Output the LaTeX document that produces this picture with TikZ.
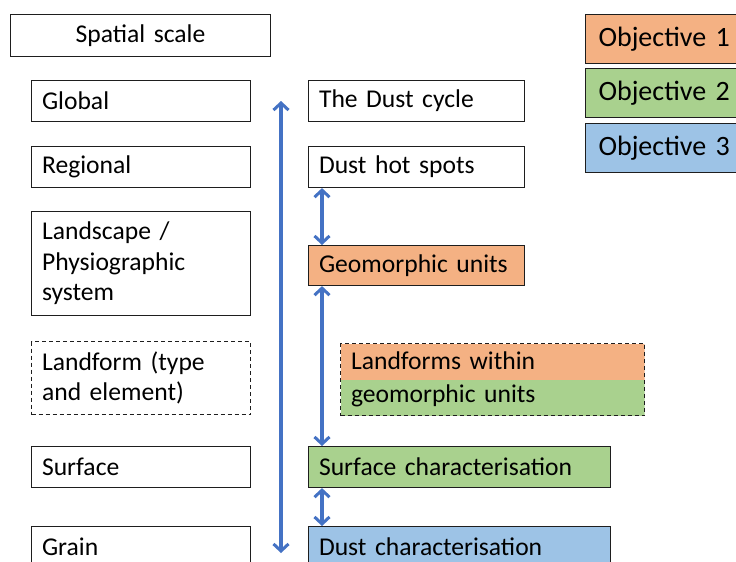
\documentclass[tikz,border=0pt]{standalone}
\usepackage{fontspec}
\setmainfont{Carlito}
\usetikzlibrary{arrows.meta}

\definecolor{objone}{RGB}{244,177,131}
\definecolor{objtwo}{RGB}{169,209,142}
\definecolor{objthree}{RGB}{157,195,230}
\definecolor{linkblue}{RGB}{68,114,196}
\definecolor{edge}{RGB}{30,30,30}

\newcommand\bodyfont{\fontsize{25.6pt}{30.5pt}\selectfont}
\newcommand\splitfont{\fontsize{25.6pt}{33pt}\selectfont}
\newcommand\legendfont{\fontsize{28pt}{32pt}\selectfont}

\tikzset{
  box/.style={draw=edge, line width=1.1pt, anchor=north west, align=left,
    inner xsep=10.5pt, inner ysep=0pt, font=\bodyfont},
  leftbox/.style={box, text width=198pt},
  shortbox/.style={box, text width=195pt},
  longbox/.style={box, text width=281pt},
  legendbox/.style={draw=edge, line width=1.1pt, anchor=north west, align=left,
    inner xsep=13pt, inner ysep=0pt, text width=134pt, minimum height=49pt,
    font=\legendfont},
  link/.style={linkblue, line width=3.2pt,
    {Straight Barb[length=7pt,width=15pt,line width=3pt]}-{Straight Barb[length=7pt,width=15pt,line width=3pt]}}
}

\begin{document}
\begin{tikzpicture}[x=1pt,y=-1pt]
\useasboundingbox (0,0) rectangle (736,562);
\fill[white] (0,0) rectangle (736,562);
\clip (0,0) rectangle (736,562);

% heading
\node[box, align=center, text width=239pt, minimum height=42pt] (scale) at (10,14) {Spatial scale};

% spatial scale levels
\node[leftbox, minimum height=41pt] (global) at (31,80) {Global};
\node[leftbox, minimum height=41pt] (regional) at (31,146) {Regional};
\node[leftbox, minimum height=104pt] (landscape) at (31,211) {Landscape /\\Physiographic\\system};
\node[leftbox, dashed, dash pattern=on 4pt off 3pt, minimum height=73pt] (landform) at (31,341) {Landform (type\\and element)};
\node[leftbox, minimum height=41pt] (surface) at (31,446) {Surface};
\node[leftbox, minimum height=41pt] (grain) at (31,526) {Grain};

% research items
\node[shortbox, minimum height=41pt] (cycle) at (308,80) {The Dust cycle};
\node[shortbox, minimum height=41pt] (hotspots) at (308,146) {Dust hot spots};
\node[shortbox, fill=objone, minimum height=40pt] (geo) at (308,245) {Geomorphic units};
\node[box, text width=283pt, dashed, dash pattern=on 4pt off 3pt, minimum height=72pt,
  font=\splitfont,
  path picture={
    \fill[objone] (path picture bounding box.north west) rectangle (path picture bounding box.east);
    \fill[objtwo] (path picture bounding box.west) rectangle (path picture bounding box.south east);
  }] (within) at (340,343) {Landforms within\\geomorphic units};
\node[longbox, fill=objtwo, minimum height=41pt] (surfchar) at (308,446) {Surface characterisation};
\node[longbox, fill=objthree, minimum height=41pt] (dustchar) at (308,526) {Dust characterisation};

% legend
\node[legendbox, fill=objone] (obj1) at (585,14) {Objective 1};
\node[legendbox, fill=objtwo] (obj2) at (585,68) {Objective 2};
\node[legendbox, fill=objthree] (obj3) at (585,123) {Objective 3};

% scale axis
\coordinate (axistop) at (281,101);
\coordinate (axisbottom) at (281,553);
\draw[link] (axistop) -- (axisbottom);

% links between levels
\draw[link] ([xshift=14pt]hotspots.south west) -- ([xshift=14pt]geo.north west);
\draw[link] ([xshift=14pt]geo.south west) -- ([xshift=14pt]surfchar.north west);
\draw[link] ([xshift=14pt]surfchar.south west) -- ([xshift=14pt]dustchar.north west);
\end{tikzpicture}
\end{document}
